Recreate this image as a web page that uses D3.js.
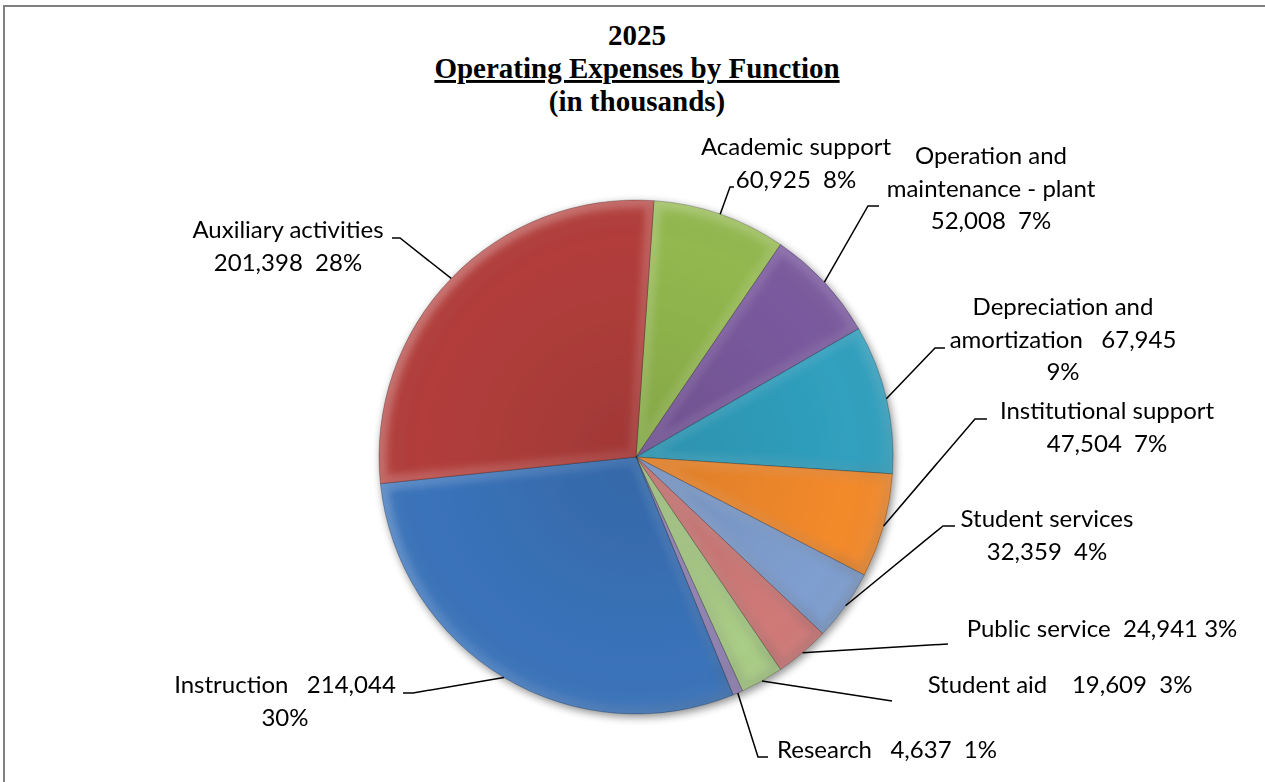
<!DOCTYPE html>
<html>
<head>
<meta charset="utf-8">
<script src="https://cdn.jsdelivr.net/npm/d3@7"></script>
<style>
  body { margin: 0; background: #fff; }
  svg text { white-space: pre; }
</style>
</head>
<body>
<svg id="chart" width="1265" height="782"></svg>
<script>
// slices in drawing order, clockwise from the top
const categories = ["Academic support", "Operation and maintenance - plant", "Depreciation and amortization",
	"Institutional support", "Student services", "Public service", "Student aid", "Research",
	"Instruction", "Auxiliary activities"];
const values = [60925, 52008, 67945, 47504, 32359, 24941, 19609, 4637, 214044, 201398];
const percents = ["8%", "7%", "9%", "7%", "4%", "3%", "3%", "1%", "30%", "28%"];
const labelLines = [
	["Academic support", "60,925  8%"],
	["Operation and", "maintenance - plant", "52,008  7%"],
	["Depreciation and", "amortization   67,945", "9%"],
	["Institutional support", "47,504  7%"],
	["Student services", "32,359  4%"],
	["Public service  24,941 3%"],
	["Student aid    19,609  3%"],
	["Research   4,637  1%"],
	["Instruction   214,044", "30%"],
	["Auxiliary activities", "201,398  28%"]
];
const titleLines = ["2025", "Operating Expenses by Function", "(in thousands)"];

const colors = ["#93b84f", "#7a5a9e", "#30a0bf", "#f38a2c", "#7f9fd0", "#d07a78", "#a9cd86", "#9484b8", "#3a73ba", "#b23e3b"];

// label layout: text centre x, first baseline, and leader elbow points
const labelLayout = [
	{cx: 796, y: 155, elbow: [[730, 187], [734, 187]]},
	{cx: 991, y: 164, elbow: [[868, 206], [879, 206]]},
	{cx: 1063, y: 315, elbow: [[935, 348], [945, 348]]},
	{cx: 1107, y: 419, elbow: [[975, 419], [987, 419]]},
	{cx: 1047, y: 527, elbow: [[943, 526], [955, 526]]},
	{cx: 1102, y: 637, elbow: [[948, 644]]},
	{cx: 1060, y: 693, elbow: [[892, 701]]},
	{cx: 887, y: 758, elbow: [[758, 757], [768, 757]]},
	{cx: 285, y: 693, elbow: [[413, 693], [403, 693]]},
	{cx: 288, y: 238, elbow: [[400, 238], [392, 238]]}
];

const svg = d3.select('#chart');
const cx = 636, cy = 457, radius = 257;
const lineGap = 32.5;

// chart frame (only the top and left edges fall inside the picture)
svg.append('rect')
	.attr('x', 4).attr('y', 6)
	.attr('width', 1300).attr('height', 820)
	.attr('fill', 'none')
	.attr('stroke', '#808080')
	.attr('stroke-width', 2);

// title
const title = svg.append('text')
	.attr('text-anchor', 'middle')
	.style('font-family', 'Liberation Serif, Times New Roman, serif')
	.style('font-weight', 'bold')
	.style('font-size', '29px')
	.style('fill', '#000');
titleLines.forEach((t, i) => {
	title.append('tspan')
		.attr('x', 637)
		.attr('y', 45 + i * 33)
		.style('text-decoration', i === 1 ? 'underline' : null)
		.text(t);
});

const defs = svg.append('defs');

const shadow = defs.append('filter').attr('id', 'shadow')
	.attr('x', '-20%').attr('y', '-20%').attr('width', '140%').attr('height', '140%');
shadow.append('feGaussianBlur').attr('in', 'SourceAlpha').attr('stdDeviation', 4);
shadow.append('feOffset').attr('dx', 2).attr('dy', 3).attr('result', 'blur');
shadow.append('feComponentTransfer').append('feFuncA').attr('type', 'linear').attr('slope', 0.45);
const merge = shadow.append('feMerge');
merge.append('feMergeNode');
merge.append('feMergeNode').attr('in', 'SourceGraphic');

const soft = defs.append('filter').attr('id', 'soft')
	.attr('x', '-10%').attr('y', '-10%').attr('width', '120%').attr('height', '120%');
soft.append('feGaussianBlur').attr('stdDeviation', 3);

// bevel light from the upper left (coords are in the pie group's space)
const bevel = defs.append('linearGradient').attr('id', 'bevel')
	.attr('gradientUnits', 'userSpaceOnUse')
	.attr('x1', -radius).attr('y1', -radius)
	.attr('x2', radius).attr('y2', radius);
bevel.append('stop').attr('offset', '0%').attr('stop-color', '#fff').attr('stop-opacity', 0.3);
bevel.append('stop').attr('offset', '50%').attr('stop-color', '#fff').attr('stop-opacity', 0.08);
bevel.append('stop').attr('offset', '100%').attr('stop-color', '#000').attr('stop-opacity', 0.2);

const shade = defs.append('radialGradient').attr('id', 'shade')
	.attr('gradientUnits', 'userSpaceOnUse')
	.attr('cx', 0).attr('cy', 0).attr('r', radius);
shade.append('stop').attr('offset', '0%').attr('stop-color', '#000').attr('stop-opacity', 0.1);
shade.append('stop').attr('offset', '85%').attr('stop-color', '#000').attr('stop-opacity', 0.0);
shade.append('stop').attr('offset', '100%').attr('stop-color', '#fff').attr('stop-opacity', 0.06);

const pie = d3.pie()
	.sort(null)
	.startAngle(4 * Math.PI / 180)
	.endAngle(4 * Math.PI / 180 + 2 * Math.PI);

const arc = d3.arc().innerRadius(0).outerRadius(radius);
const arcs = pie(values);

arcs.forEach((d, i) => {
	defs.append('clipPath').attr('id', `clip-${i}`)
		.append('path').attr('d', arc(d));
});

const g = svg.append('g').attr('transform', `translate(${cx},${cy})`);
const pieG = g.append('g').attr('filter', 'url(#shadow)');

const slice = pieG.selectAll('g.slice')
	.data(arcs)
	.enter()
	.append('g')
	.attr('class', 'slice');

slice.append('path')
	.attr('d', arc)
	.attr('fill', (d, i) => colors[i]);

slice.append('path')
	.attr('d', arc)
	.attr('fill', 'url(#shade)');

// soft inner bevel, clipped to each slice
slice.append('g')
	.attr('clip-path', (d, i) => `url(#clip-${i})`)
	.append('path')
	.attr('d', arc)
	.attr('fill', 'none')
	.attr('stroke', 'url(#bevel)')
	.attr('stroke-width', 16)
	.attr('stroke-linejoin', 'round')
	.attr('filter', 'url(#soft)');

slice.append('path')
	.attr('d', arc)
	.attr('fill', 'none')
	.attr('stroke', 'rgba(0,0,0,0.3)')
	.attr('stroke-width', 0.8);

// leader lines
const line = d3.line();
arcs.forEach((d, i) => {
	const mid = (d.startAngle + d.endAngle) / 2;
	const start = [cx + radius * Math.sin(mid), cy - radius * Math.cos(mid)];
	svg.append('path')
		.attr('d', line([start].concat(labelLayout[i].elbow)))
		.attr('fill', 'none')
		.attr('stroke', '#000')
		.attr('stroke-width', 1.5);
});

// data labels
labelLines.forEach((lines, i) => {
	const t = svg.append('text')
		.attr('text-anchor', 'middle')
		.style('font-family', 'Lato, Carlito, Calibri, sans-serif')
		.style('font-size', '24px')
		.style('fill', '#000');
	lines.forEach((s, j) => {
		t.append('tspan')
			.attr('x', labelLayout[i].cx)
			.attr('y', labelLayout[i].y + j * lineGap)
			.text(s);
	});
});
</script>
</body>
</html>
